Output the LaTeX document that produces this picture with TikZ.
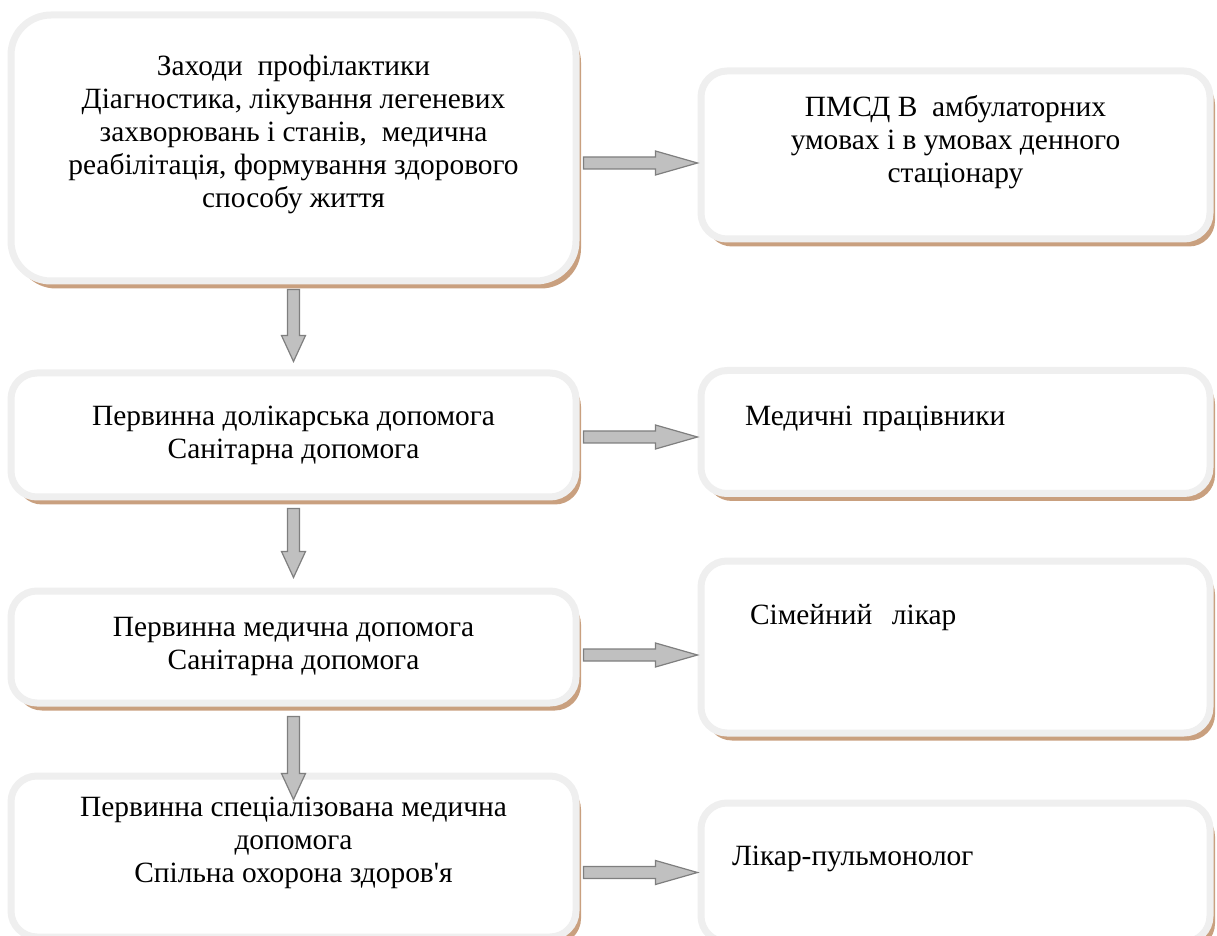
\documentclass[tikz,border=0pt]{standalone}
\usepackage{fontspec}
\setmainfont{Liberation Serif}
\usetikzlibrary{calc}
\usetikzlibrary{shadows}

\definecolor{boxedge}{HTML}{EFEFEF}
\definecolor{shadowbrown}{HTML}{C9A07F}
\definecolor{arrowfill}{HTML}{C0C0C0}
\definecolor{arrowline}{HTML}{7F7F7F}

\tikzset{
	stage/.style={rectangle, rounded corners=13pt, draw=boxedge, line width=3.5pt, fill=white,
		drop shadow={shadow xshift=2.5pt, shadow yshift=-3.75pt, fill=shadowbrown, opacity=1},
		minimum width=282.5pt, align=center, inner sep=0pt, font=\fontsize{14.7}{16.5}\selectfont},
	staff/.style={stage, minimum width=254.5pt},
	blockarrow/.style={draw=arrowline, fill=arrowfill, line width=0.6pt},
	hblock/.style={to path={let \p1=(\tikztostart), \p2=(\tikztotarget) in
		(\x1,\y1+3pt) -- (\x2-21pt,\y1+3pt) -- (\x2-21pt,\y1+6pt) -- (\x2,\y1)
		-- (\x2-21pt,\y1-6pt) -- (\x2-21pt,\y1-3pt) -- (\x1,\y1-3pt) -- cycle}},
	vblock/.style={to path={let \p1=(\tikztostart), \p2=(\tikztotarget) in
		(\x1-3pt,\y1) -- (\x1-3pt,\y2+13pt) -- (\x1-6pt,\y2+13pt) -- (\x1,\y2)
		-- (\x1+6pt,\y2+13pt) -- (\x1+3pt,\y2+13pt) -- (\x1+3pt,\y1) -- cycle}}
}

\begin{document}
\begin{tikzpicture}[x=0.5pt,y=-0.5pt]
	\clip (0,0) rectangle (1217,936);

	% levels of care
	\node[stage, rounded corners=20pt, minimum height=133pt] (p1) at (293.5,148)
		{Заходи\ \ профілактики\\ Діагностика, лікування легеневих\\ захворювань і станів,\ \ медична\\ реабілітація, формування здорового\\ способу життя\\ \mbox{}};
	\node[stage, minimum height=62pt] (p2) at (293.5,435)
		{Первинна долікарська допомога\\ Санітарна допомога};
	\node[stage, minimum height=56pt] (p3) at (293.5,647)
		{Первинна медична допомога\\ Санітарна допомога};
	\node[stage, minimum height=80.5pt] (p4) at (293.5,856.5)
		{Первинна спеціалізована медична\\ допомога\\ Спільна охорона здоров\textquotesingle я\\ \mbox{}};

	% who provides it
	\node[staff, minimum height=84pt] (s1) at (955.5,155)
		{ПМСД В\ \ амбулаторних\\ умовах і в умовах денного\\ стаціонару\\ \mbox{}};
	\node[staff, minimum height=61.5pt, align=left, text width=210.5pt] (s2) at (955.5,432)
		{Медичні працівники\\ \mbox{}};
	\node[staff, minimum height=86pt, align=left, text width=205.5pt] (s3) at (955.5,647)
		{Сімейний\ \ лікар\\ \mbox{}\\ \mbox{}};
	\node[staff, minimum height=69.5pt, align=left, text width=223.5pt] (s4) at (955.5,872.5)
		{Лікар-пульмонолог\\ \mbox{}};

	% arrows down
	\draw[blockarrow] ($(p1.south)+(0,5)$) to[vblock] ($(p2.north)+(0,-8)$);
	\draw[blockarrow] ($(p2.south)+(0,8)$) to[vblock] ($(p3.north)+(0,-10)$);
	\draw[blockarrow] ($(p3.south)+(0,10)$) to[vblock] ($(p4.north)+(0,27)$);

	% arrows right
	\draw[blockarrow] ($(p1.east |- s1.west)+(4,8)$) to[hblock] ($(s1.west)+(0,8)$);
	\draw[blockarrow] ($(p2.east |- s2.west)+(4,5)$) to[hblock] ($(s2.west)+(0,5)$);
	\draw[blockarrow] ($(p3.east |- s3.west)+(4,8)$) to[hblock] ($(s3.west)+(0,8)$);
	\draw[blockarrow] ($(p4.east |- s4.west)+(4,0)$) to[hblock] (s4.west);
\end{tikzpicture}
\end{document}
